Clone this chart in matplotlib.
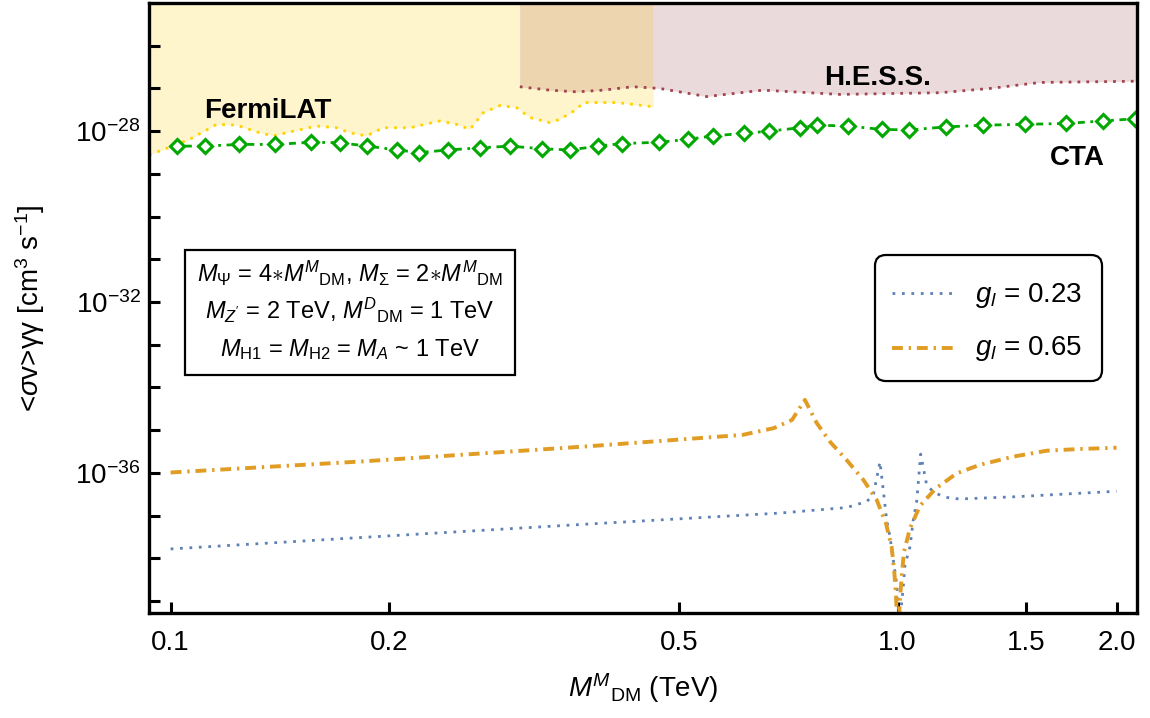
import numpy as np
import matplotlib
matplotlib.use('Agg')
import matplotlib.pyplot as plt
from matplotlib.patches import Rectangle, FancyBboxPatch
from matplotlib.ticker import FixedLocator, FuncFormatter, NullLocator

plt.rcParams['font.family'] = ['Liberation Sans', 'DejaVu Sans']
plt.rcParams['mathtext.fontset'] = 'custom'
plt.rcParams['mathtext.rm'] = 'Liberation Sans'
plt.rcParams['mathtext.it'] = 'Liberation Sans:italic'
plt.rcParams['mathtext.bf'] = 'Liberation Sans:bold'

# all cross sections given as log10(<sigma v> / cm^3 s^-1), masses in TeV
fermi_m = [0.0934, 0.1063, 0.1157, 0.1233, 0.1327, 0.1384, 0.1474, 0.1588, 0.1692,
           0.1764, 0.1860, 0.1961, 0.2134, 0.2347, 0.2473, 0.2580, 0.2692, 0.2838,
           0.2991, 0.3119, 0.3323, 0.3431, 0.3618, 0.3694, 0.4107, 0.4468, 0.4611]
fermi_logsv = [-28.56, -28.19, -27.84, -27.86, -28.04, -28.11, -28.00, -27.88, -27.92,
               -28.04, -28.11, -27.92, -27.92, -27.76, -27.84, -27.96, -27.57, -27.40,
               -27.45, -27.68, -27.80, -27.72, -27.49, -27.33, -27.33, -27.40, -27.43]

hess_m = [0.3022, 0.3323, 0.3618, 0.3932, 0.4324, 0.4710, 0.5461, 0.6528, 0.8329,
          1.1435, 1.3397, 1.5697, 2.134]
hess_logsv = [-26.96, -27.04, -27.08, -27.04, -26.96, -27.00, -27.19, -27.04, -27.14,
              -27.10, -27.00, -26.86, -26.83]

cta_m = [0.1019, 0.1115, 0.1243, 0.1391, 0.1562, 0.1709, 0.1864, 0.2049, 0.2198,
         0.2408, 0.2663, 0.2928, 0.3238, 0.3540, 0.3874, 0.4173, 0.4695, 0.5152,
         0.5576, 0.6144, 0.6659, 0.7339, 0.7738, 0.8551, 0.9506, 1.0375, 1.1652,
         1.3113, 1.4964, 1.7041, 1.9179, 2.1204]
cta_logsv = [-28.35, -28.35, -28.31, -28.31, -28.26, -28.27, -28.35, -28.44, -28.50,
             -28.44, -28.39, -28.35, -28.41, -28.44, -28.35, -28.29, -28.26, -28.19,
             -28.11, -28.05, -28.00, -27.92, -27.86, -27.88, -27.96, -27.97, -27.90,
             -27.86, -27.84, -27.82, -27.76, -27.71]

g023_m = [0.100, 0.1838, 0.3727, 0.6888, 0.8509, 0.9066, 0.9257, 0.9455, 0.9554,
          0.9658, 0.9759, 0.9852, 0.9968, 1.0019, 1.004, 1.0120, 1.0179, 1.0233,
          1.0397, 1.0507, 1.0620, 1.0673, 1.0755, 1.0961, 1.1193, 1.1497, 1.1800,
          1.2181, 1.4421, 2.000]
g023_logsv = [-37.78, -37.51, -37.20, -36.94, -36.81, -36.67, -36.52, -35.74, -36.40,
              -37.10, -37.49, -37.99, -38.59, -39.05, -40.00, -39.10, -38.67, -38.16,
              -37.73, -37.10, -36.67, -36.24, -35.56, -36.28, -36.44, -36.54, -36.59,
              -36.61, -36.56, -36.43]

g065_m = [0.100, 0.1838, 0.3730, 0.6119, 0.6760, 0.7156, 0.7454, 0.7738, 0.8070,
          0.8509, 0.8968, 0.9357, 0.9636, 0.9811, 0.9893, 0.9947, 1.0009, 1.0073,
          1.0127, 1.0202, 1.0397, 1.0732, 1.1290, 1.2057, 1.2978, 1.4407, 1.6032,
          1.7810, 2.000]
g065_logsv = [-35.99, -35.73, -35.38, -35.11, -34.95, -34.76, -34.29, -34.83, -35.27,
              -35.70, -36.16, -36.63, -37.18, -37.73, -38.31, -38.86, -40.00, -38.98,
              -38.43, -37.85, -37.30, -36.77, -36.36, -36.01, -35.81, -35.62, -35.48,
              -35.44, -35.41]

xticks = [0.1, 0.2, 0.5, 1.0, 1.5, 2.0]
xticklabels = ['0.1', '0.2', '0.5', '1.0', '1.5', '2.0']

XMIN, XMAX = 0.0934, 2.134
YMIN, YMAX = 10 ** -39.28, 1e-25

fig = plt.figure(figsize=(11.5, 7.18), dpi=100)
ax = fig.add_axes([0.1296, 0.1462, 0.8591, 0.8496])
ax.set_xscale('log')
ax.set_yscale('log')
ax.set_xlim(XMIN, XMAX)
ax.set_ylim(YMIN, YMAX)

pw = lambda a: 10.0 ** np.asarray(a)

# excluded regions
fermi_fill = ax.fill_between(fermi_m, pw(fermi_logsv), YMAX, color='#FFF5CC',
                             linewidth=0, zorder=1)
ax.fill_between(hess_m, pw(hess_logsv), YMAX, color='#EBDADB', linewidth=0, zorder=1)
overlap = ax.fill_between(hess_m, pw(hess_logsv), YMAX, color='#EDD5B0',
                          linewidth=0, zorder=1.5)
overlap.set_clip_path(fermi_fill.get_paths()[0], ax.transData)

ax.plot(fermi_m, pw(fermi_logsv), color='#FFD200', lw=2.0,
        linestyle=(0, (1, 2.2)), zorder=2)
ax.plot(hess_m, pw(hess_logsv), color='#A04450', lw=2.0,
        linestyle=(0, (1, 2.2)), zorder=2)

ax.plot(cta_m, pw(cta_logsv), color='#00A800', lw=2.0,
        linestyle=(0, (1, 2, 2.5, 2)), marker='D', markersize=7.5,
        markerfacecolor='white', markeredgewidth=2.2, zorder=3)

style_023 = dict(color='#5E81B5', lw=2.0, linestyle=(0, (1, 2.4)))
style_065 = dict(color='#E19C24', lw=2.8, linestyle=(0, (2.8, 1.5, 0.6, 1.5)))
ax.plot(g023_m, pw(g023_logsv), zorder=4, **style_023)
ax.plot(g065_m, pw(g065_logsv), zorder=4, **style_065)

# experiment labels
ax.text(0.1204, 0.823, 'FermiLAT', transform=ax.transAxes, fontsize=20,
        fontweight='bold', ha='center', va='center', zorder=5)
ax.text(0.737, 0.877, 'H.E.S.S.', transform=ax.transAxes, fontsize=20,
        fontweight='bold', ha='center', va='center', zorder=5)
ax.text(0.940, 0.746, 'CTA', transform=ax.transAxes, fontsize=20,
        fontweight='bold', ha='center', va='center', zorder=5)

# parameter box
ax.add_patch(Rectangle((0.0364, 0.390), 0.334, 0.205, transform=ax.transAxes,
                       facecolor='white', edgecolor='black', lw=1.6, zorder=5))
box_lines = [
    r'$M_\Psi$ = 4$\ast M^M{}_{\rm DM}$, $M_\Sigma$ = 2$\ast M^M{}_{\rm DM}$',
    r"$M_{Z'}$ = 2 TeV, $M^D{}_{\rm DM}$ = 1 TeV",
    r'$M_{\rm H1}$ = $M_{\rm H2}$ = $M_A$ ~ 1 TeV',
]
for i, s in enumerate(box_lines):
    ax.text(0.2034, 0.5426 - i * 0.0606, s, transform=ax.transAxes, fontsize=17,
            ha='center', va='baseline', zorder=6)

# legend, drawn by hand to match the rounded Mathematica frame
ax.add_patch(FancyBboxPatch((0.7348, 0.3803), 0.2298, 0.2066, transform=ax.transAxes,
                            boxstyle='round,pad=0,rounding_size=0.011',
                            mutation_aspect=988 / 610, facecolor='white',
                            edgecolor='black', lw=1.6, zorder=6))
for yl, yb, st, lab in [(0.5246, 0.5098, style_023, r'$g_l$ = 0.23'),
                        (0.4344, 0.4230, style_065, r'$g_l$ = 0.65')]:
    ax.plot([0.7520, 0.8188], [yl, yl], transform=ax.transAxes, zorder=7, **st)
    ax.text(0.8360, yb, lab, transform=ax.transAxes, fontsize=20,
            ha='left', va='baseline', zorder=7)

# axes styling
for sp in ax.spines.values():
    sp.set_linewidth(2.4)
    sp.set_zorder(10)

ax.xaxis.set_major_locator(FixedLocator(xticks))
ax.xaxis.set_minor_locator(NullLocator())
ax.set_xticklabels(xticklabels)
ax.yaxis.set_major_locator(FixedLocator([10.0 ** k for k in range(-39, -24)]))
ax.yaxis.set_minor_locator(NullLocator())
ax.yaxis.set_major_formatter(FuncFormatter(
    lambda v, pos: r'$10^{%d}$' % round(np.log10(v)) if round(np.log10(v)) % 4 == 0 else ''))

ax.tick_params(axis='both', which='major', direction='in', length=8, width=2.2,
               top=False, right=False, labelsize=20)
ax.tick_params(axis='x', pad=12)
ax.tick_params(axis='y', pad=6)

ax.set_xlabel(r'$M^M{}_{\rm DM}$ (TeV)', fontsize=20)
ax.xaxis.set_label_coords(0.5, -0.095)
ax.set_ylabel(r'<$\sigma$v>γγ [cm$^3$ s$^{-1}$]', fontsize=20)
ax.yaxis.set_label_coords(-0.103, 0.5)

fig.savefig('out.png', dpi=100)
